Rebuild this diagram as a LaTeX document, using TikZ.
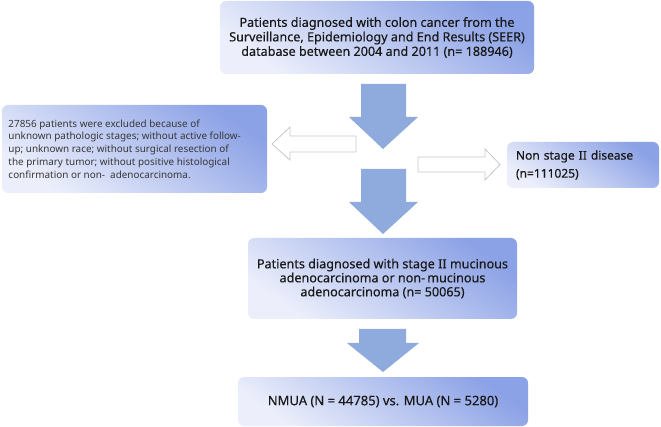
\documentclass[tikz,border=0pt]{standalone}
\usepackage{fontspec}
\setmainfont{Noto Sans}
\definecolor{boxdark}{RGB}{140,162,230}
\definecolor{boxlight}{RGB}{236,239,251}
\definecolor{arrowblue}{RGB}{143,170,220}
\definecolor{hollowgray}{RGB}{200,200,200}
\definecolor{txt}{RGB}{25,25,25}
\newcommand{\semibold}{\addfontfeatures{FakeBold=0.35}}
\tikzset{
  flowbox/.style={rounded corners=6pt, top color=boxdark, bottom color=boxlight, shading angle=-35,
    draw=none, text=txt, align=center, inner sep=0pt},
  blockarrow/.style={fill=arrowblue, draw=none},
  hollowarrow/.style={fill=white, draw=hollowgray, line width=0.8pt},
}
\begin{document}
\begin{tikzpicture}[x=1pt,y=-1pt]
\useasboundingbox (0,0) rectangle (661,427);
% boxes
\node[flowbox, minimum width=314pt, minimum height=73pt, font=\fontsize{12.6}{14.5}\selectfont\semibold]
  (top) at (377,37.5) {Patients diagnosed with colon cancer from the\\Surveillance,\ Epidemiology and End Results (SEER)\\database between 2004 and 2011 (n= 188946)};
\node[flowbox, minimum width=265pt, minimum height=88pt] (excl) at (134.5,149) {};
\node[anchor=west, align=left, inner sep=0pt, font=\fontsize{9.9}{12.8}\selectfont, text=black!78]
  (excltext) at ([xshift=6.5pt]excl.west) {27856 patients were excluded because of\\unknown pathologic stages; without active follow-\\up; unknown race; without surgical resection of\\the primary tumor;\ without positive histological\\confirmation or non-\ \ adenocarcinoma.};
\node[flowbox, minimum width=152pt, minimum height=46pt, text width=134pt, align=left, inner xsep=9pt,
  font=\fontsize{12}{18}\selectfont\semibold]
  (non) at (583,165) {Non stage II disease\\(n=111025)};
\node[flowbox, minimum width=269pt, minimum height=81pt, font=\fontsize{12.6}{14}\selectfont\semibold]
  (mid) at (382.5,278.5) {Patients diagnosed with stage II mucinous\\adenocarcinoma or non-\,mucinous\\adenocarcinoma (n= 50065)};
\node[flowbox, minimum width=290pt, minimum height=49pt, font=\fontsize{13}{14}\selectfont\semibold]
  (bot) at (383,401.5) {NMUA (N = 44785) vs. MUA (N = 5280)};
% filled down arrows
\draw[blockarrow] (361,84) -- (406,84) -- (406,117) -- (418,117) -- (383,149) -- (349,117) -- (361,117) -- cycle;
\draw[blockarrow] (361,169) -- (406,169) -- (406,202) -- (418,202) -- (383,234) -- (349,202) -- (361,202) -- cycle;
\draw[blockarrow] (359,329) -- (406,329) -- (406,343) -- (419,343) -- (383,372) -- (347,343) -- (359,343) -- cycle;
% hollow side arrows
\draw[hollowarrow] (356,136) -- (290,136) -- (290,127) -- (272,144) -- (290,160) -- (290,152) -- (356,152) -- cycle;
\draw[hollowarrow] (418,157) -- (485,157) -- (485,149) -- (500,164.5) -- (485,180) -- (485,172) -- (418,172) -- cycle;
\end{tikzpicture}
\end{document}
